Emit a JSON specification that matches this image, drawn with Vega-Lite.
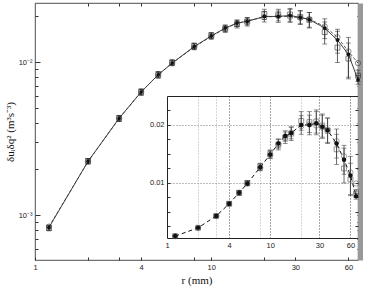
{
  "$schema": "https://vega.github.io/schema/vega-lite/v6.json",
  "width": 323,
  "height": 257,
  "autosize": {"type": "none"},
  "padding": {"left": 35, "top": 3, "right": 7, "bottom": 27},
  "background": "white",
  "config": {
    "view": {"stroke": "#222", "strokeWidth": 0.8},
    "axis": {"labelFont": "Liberation Sans", "labelFontSize": 7.5, "labelColor": "#222", "titleFont": "Liberation Serif", "titleFontWeight": "normal", "titleColor": "#111", "tickColor": "#333", "domainColor": "#222", "labelOverlap": false, "labelFlush": false}
  },
  "datasets": {
    "pts": [
      {"r": 1.2, "v": 0.00083, "lo": 0.00080, "hi": 0.00086, "s": "A"},
      {"r": 2, "v": 0.00225, "lo": 0.00216, "hi": 0.00234, "s": "A"},
      {"r": 3, "v": 0.0043, "lo": 0.0041, "hi": 0.0045, "s": "A"},
      {"r": 4, "v": 0.0064, "lo": 0.0061, "hi": 0.0067, "s": "A"},
      {"r": 5, "v": 0.0083, "lo": 0.0079, "hi": 0.0087, "s": "A"},
      {"r": 6, "v": 0.0099, "lo": 0.0095, "hi": 0.0103, "s": "A"},
      {"r": 8, "v": 0.0127, "lo": 0.0121, "hi": 0.0133, "s": "A"},
      {"r": 10, "v": 0.0149, "lo": 0.0142, "hi": 0.0156, "s": "A"},
      {"r": 12, "v": 0.0168, "lo": 0.0160, "hi": 0.0176, "s": "A"},
      {"r": 14, "v": 0.0181, "lo": 0.0172, "hi": 0.0190, "s": "A"},
      {"r": 16, "v": 0.0186, "lo": 0.0176, "hi": 0.0196, "s": "A"},
      {"r": 20, "v": 0.0200, "lo": 0.0184, "hi": 0.0216, "s": "A"},
      {"r": 24, "v": 0.0200, "lo": 0.0183, "hi": 0.0217, "s": "A"},
      {"r": 28, "v": 0.0203, "lo": 0.0183, "hi": 0.0223, "s": "A"},
      {"r": 32, "v": 0.0197, "lo": 0.0177, "hi": 0.0217, "s": "A"},
      {"r": 36, "v": 0.0191, "lo": 0.0170, "hi": 0.0212, "s": "A"},
      {"r": 44, "v": 0.0168, "lo": 0.0143, "hi": 0.0193, "s": "A"},
      {"r": 52, "v": 0.0140, "lo": 0.0115, "hi": 0.0165, "s": "A"},
      {"r": 60, "v": 0.0113, "lo": 0.0080, "hi": 0.0146, "s": "A"},
      {"r": 68, "v": 0.0077, "lo": 0.0072, "hi": 0.0082, "s": "A"},
      {"r": 1.2, "v": 0.00082, "lo": 0.00079, "hi": 0.00085, "s": "B"},
      {"r": 2, "v": 0.00226, "lo": 0.00217, "hi": 0.00235, "s": "B"},
      {"r": 3, "v": 0.0043, "lo": 0.0041, "hi": 0.0045, "s": "B"},
      {"r": 4, "v": 0.0064, "lo": 0.0061, "hi": 0.0067, "s": "B"},
      {"r": 5, "v": 0.0083, "lo": 0.0079, "hi": 0.0087, "s": "B"},
      {"r": 6, "v": 0.0100, "lo": 0.0096, "hi": 0.0104, "s": "B"},
      {"r": 8, "v": 0.0128, "lo": 0.0122, "hi": 0.0134, "s": "B"},
      {"r": 10, "v": 0.0150, "lo": 0.0143, "hi": 0.0157, "s": "B"},
      {"r": 12, "v": 0.0166, "lo": 0.0157, "hi": 0.0175, "s": "B"},
      {"r": 14, "v": 0.0178, "lo": 0.0168, "hi": 0.0188, "s": "B"},
      {"r": 16, "v": 0.0185, "lo": 0.0173, "hi": 0.0197, "s": "B"},
      {"r": 20, "v": 0.0207, "lo": 0.0191, "hi": 0.0223, "s": "B"},
      {"r": 24, "v": 0.0205, "lo": 0.0187, "hi": 0.0223, "s": "B"},
      {"r": 28, "v": 0.0206, "lo": 0.0186, "hi": 0.0226, "s": "B"},
      {"r": 32, "v": 0.0199, "lo": 0.0179, "hi": 0.0219, "s": "B"},
      {"r": 36, "v": 0.0190, "lo": 0.0168, "hi": 0.0212, "s": "B"},
      {"r": 44, "v": 0.0158, "lo": 0.0132, "hi": 0.0184, "s": "B"},
      {"r": 52, "v": 0.0125, "lo": 0.0100, "hi": 0.0160, "s": "B"},
      {"r": 60, "v": 0.0106, "lo": 0.0078, "hi": 0.0134, "s": "B"},
      {"r": 68, "v": 0.0082, "lo": 0.0075, "hi": 0.0089, "s": "B"},
      {"r": 1.2, "v": 0.00084, "s": "C"},
      {"r": 2, "v": 0.00224, "s": "C"},
      {"r": 3, "v": 0.0043, "s": "C"},
      {"r": 4, "v": 0.0064, "s": "C"},
      {"r": 5, "v": 0.0083, "s": "C"},
      {"r": 6, "v": 0.0099, "s": "C"},
      {"r": 8, "v": 0.0126, "s": "C"},
      {"r": 10, "v": 0.0148, "s": "C"},
      {"r": 12, "v": 0.0167, "s": "C"},
      {"r": 14, "v": 0.0180, "s": "C"},
      {"r": 16, "v": 0.0187, "s": "C"},
      {"r": 20, "v": 0.0198, "s": "C"},
      {"r": 24, "v": 0.0201, "s": "C"},
      {"r": 28, "v": 0.0199, "s": "C"},
      {"r": 32, "v": 0.0196, "s": "C"},
      {"r": 36, "v": 0.0192, "s": "C"},
      {"r": 44, "v": 0.0172, "s": "C"},
      {"r": 52, "v": 0.0146, "s": "C"},
      {"r": 60, "v": 0.0118, "s": "C"},
      {"r": 68, "v": 0.0099, "s": "C"}
    ]
  },
  "data": {"name": "pts"},
  "resolve": {"scale": {"x": "independent", "y": "independent"}, "axis": {"x": "independent", "y": "independent"}},
  "layer": [
    {
      "resolve": {"axis": {"x": "independent", "y": "independent"}},
      "layer": [
        {
          "transform": [{"filter": "datum.s != 'C'"}],
          "mark": {"type": "rule", "color": "#333", "strokeWidth": 0.8},
          "encoding": {
            "x": {"field": "r", "type": "quantitative", "scale": {"type": "log", "domain": [1, 68], "nice": false},
              "axis": {"orient": "bottom", "values": [1, 2, 3, 4, 8, 10, 20, 30, 60], "labelExpr": "(datum.value==1||datum.value==4||datum.value==10||datum.value==30||datum.value==60) ? format(datum.value,'d') : ''", "tickSize": -3, "labelPadding": 6, "domain": false, "grid": false, "title": "r (mm)", "titleFontSize": 11, "titlePadding": 4}},
            "y": {"field": "lo", "type": "quantitative", "scale": {"type": "log", "domain": [0.000508, 0.0245], "nice": false},
              "axis": {"orient": "left", "values": [0.0006, 0.0007, 0.0008, 0.0009, 0.001, 0.002, 0.003, 0.004, 0.005, 0.006, 0.007, 0.008, 0.009, 0.01, 0.02], "labelExpr": "datum.value == 0.01 ? '10⁻²' : datum.value == 0.001 ? '10⁻³' : ''", "tickSize": {"condition": {"test": "datum.value == 0.01 || datum.value == 0.001", "value": -5}, "value": -3}, "labelPadding": 8, "domain": false, "grid": false, "title": "δuᵢδq² (m³s⁻³)", "titleFontSize": 11, "titlePadding": 3}},
            "y2": {"field": "hi"}
          }
        },
        {
          "transform": [{"filter": "datum.s != 'C'"}],
          "mark": {"type": "tick", "orient": "horizontal", "size": 5, "thickness": 0.8, "color": "#333"},
          "encoding": {
            "x": {"field": "r", "type": "quantitative", "axis": null},
            "y": {"field": "lo", "type": "quantitative", "axis": null}
          }
        },
        {
          "transform": [{"filter": "datum.s != 'C'"}],
          "mark": {"type": "tick", "orient": "horizontal", "size": 5, "thickness": 0.8, "color": "#333"},
          "encoding": {
            "x": {"field": "r", "type": "quantitative", "axis": null},
            "y": {"field": "hi", "type": "quantitative", "axis": null}
          }
        },
        {
          "transform": [{"filter": "datum.s == 'A'"}],
          "mark": {"type": "line", "color": "#111", "strokeWidth": 0.8},
          "encoding": {
            "x": {"field": "r", "type": "quantitative", "axis": null},
            "y": {"field": "v", "type": "quantitative", "axis": null}
          }
        },
        {
          "transform": [{"filter": "datum.s == 'C'"}],
          "mark": {"type": "line", "color": "#333", "strokeWidth": 0.8, "strokeDash": [3, 2]},
          "encoding": {
            "x": {"field": "r", "type": "quantitative", "axis": null},
            "y": {"field": "v", "type": "quantitative", "axis": null}
          }
        },
        {
          "transform": [{"filter": "datum.s == 'B'"}],
          "mark": {"type": "point", "shape": "square", "filled": false, "size": 24, "color": "#222", "strokeWidth": 0.8},
          "encoding": {
            "x": {"field": "r", "type": "quantitative", "axis": {"orient": "top", "values": [2, 3, 4, 8, 10, 20, 30, 60], "labels": false, "domain": false, "grid": false, "tickSize": -3, "title": null}},
            "y": {"field": "v", "type": "quantitative", "axis": {"orient": "right", "values": [0.0006, 0.0007, 0.0008, 0.0009, 0.001, 0.002, 0.003, 0.004, 0.005, 0.006, 0.007, 0.008, 0.009, 0.01, 0.02], "labels": false, "domain": true, "domainColor": "#999", "domainWidth": 5, "offset": 2, "grid": false, "tickSize": -3, "title": null}}
          }
        },
        {
          "transform": [{"filter": "datum.s == 'C'"}],
          "mark": {"type": "point", "shape": "circle", "filled": false, "size": 28, "color": "#333", "strokeWidth": 0.8},
          "encoding": {
            "x": {"field": "r", "type": "quantitative", "axis": null},
            "y": {"field": "v", "type": "quantitative", "axis": null}
          }
        },
        {
          "transform": [{"filter": "datum.s == 'A'"}],
          "mark": {"type": "point", "shape": "circle", "filled": true, "size": 14, "color": "#111", "opacity": 1},
          "encoding": {
            "x": {"field": "r", "type": "quantitative", "axis": null},
            "y": {"field": "v", "type": "quantitative", "axis": null}
          }
        }
      ]
    },
    {
      "resolve": {"axis": {"x": "independent", "y": "independent"}},
      "layer": [
        {
          "transform": [{"filter": "datum.s != 'C'"}],
          "mark": {"type": "rule", "color": "#444", "strokeWidth": 0.8},
          "encoding": {
            "x": {"field": "r", "type": "quantitative", "scale": {"type": "log", "domain": [1, 71], "nice": false, "range": [132, 323]},
              "axis": {"orient": "bottom", "offset": -22, "values": [1, 2, 3, 4, 8, 10, 20, 30, 60], "labelExpr": "(datum.value==1||datum.value==4||datum.value==10||datum.value==30||datum.value==60) ? format(datum.value,'d') : ''", "tickSize": 0, "labelPadding": 3, "domain": true, "grid": false, "title": null}},
            "y": {"field": "lo", "type": "quantitative", "scale": {"type": "linear", "domain": [0.0005, 0.025], "nice": false, "zero": false, "range": [235, 93]},
              "axis": {"orient": "left", "offset": -132, "values": [0.0025, 0.005, 0.0075, 0.01, 0.0125, 0.015, 0.0175, 0.02, 0.0225], "labelExpr": "datum.value == 0.01 ? '0.01' : datum.value == 0.02 ? '0.02' : ''", "tickSize": -3, "labelPadding": 6, "domain": true, "grid": true, "gridDash": [1, 2], "gridColor": "#555", "gridWidth": 0.8, "gridOpacity": {"condition": {"test": "datum.value == 0.01 || datum.value == 0.02", "value": 1}, "value": 0}, "title": null}},
            "y2": {"field": "hi"}
          }
        },
        {
          "transform": [{"filter": "datum.s != 'C'"}],
          "mark": {"type": "tick", "orient": "horizontal", "size": 5, "thickness": 0.8, "color": "#444"},
          "encoding": {
            "x": {"field": "r", "type": "quantitative", "axis": null},
            "y": {"field": "lo", "type": "quantitative", "axis": null}
          }
        },
        {
          "transform": [{"filter": "datum.s != 'C'"}],
          "mark": {"type": "tick", "orient": "horizontal", "size": 5, "thickness": 0.8, "color": "#444"},
          "encoding": {
            "x": {"field": "r", "type": "quantitative", "axis": null},
            "y": {"field": "hi", "type": "quantitative", "axis": null}
          }
        },
        {
          "transform": [{"filter": "datum.s == 'A'"}],
          "mark": {"type": "line", "color": "#111", "strokeWidth": 1, "strokeDash": [4, 3]},
          "encoding": {
            "x": {"field": "r", "type": "quantitative", "axis": null},
            "y": {"field": "v", "type": "quantitative", "axis": null}
          }
        },
        {
          "transform": [{"filter": "datum.s == 'B'"}],
          "mark": {"type": "point", "shape": "square", "filled": false, "size": 24, "color": "#444", "strokeWidth": 0.8},
          "encoding": {
            "x": {"field": "r", "type": "quantitative", "axis": {"orient": "top", "offset": -93, "values": [2, 3, 4, 8, 10, 20, 30, 60], "labels": false, "domain": true, "grid": true, "gridDash": [1, 2], "gridColor": {"condition": {"test": "datum.value==4||datum.value==10||datum.value==30||datum.value==60", "value": "#222"}, "value": "#999"}, "gridWidth": 0.8, "tickSize": 0, "title": null}},
            "y": {"field": "v", "type": "quantitative", "axis": null}
          }
        },
        {
          "transform": [{"filter": "datum.s == 'C'"}],
          "mark": {"type": "point", "shape": "circle", "filled": false, "size": 28, "color": "#555", "strokeWidth": 0.8},
          "encoding": {
            "x": {"field": "r", "type": "quantitative", "axis": null},
            "y": {"field": "v", "type": "quantitative", "axis": {"orient": "right", "values": [0.0025, 0.005, 0.0075, 0.01, 0.0125, 0.015, 0.0175, 0.02, 0.0225], "labels": false, "domain": false, "grid": false, "tickSize": -3, "title": null}}
          }
        },
        {
          "transform": [{"filter": "datum.s == 'A'"}],
          "mark": {"type": "point", "shape": "circle", "filled": true, "size": 20, "color": "#111", "opacity": 1},
          "encoding": {
            "x": {"field": "r", "type": "quantitative", "axis": null},
            "y": {"field": "v", "type": "quantitative", "axis": null}
          }
        }
      ]
    }
  ]
}
